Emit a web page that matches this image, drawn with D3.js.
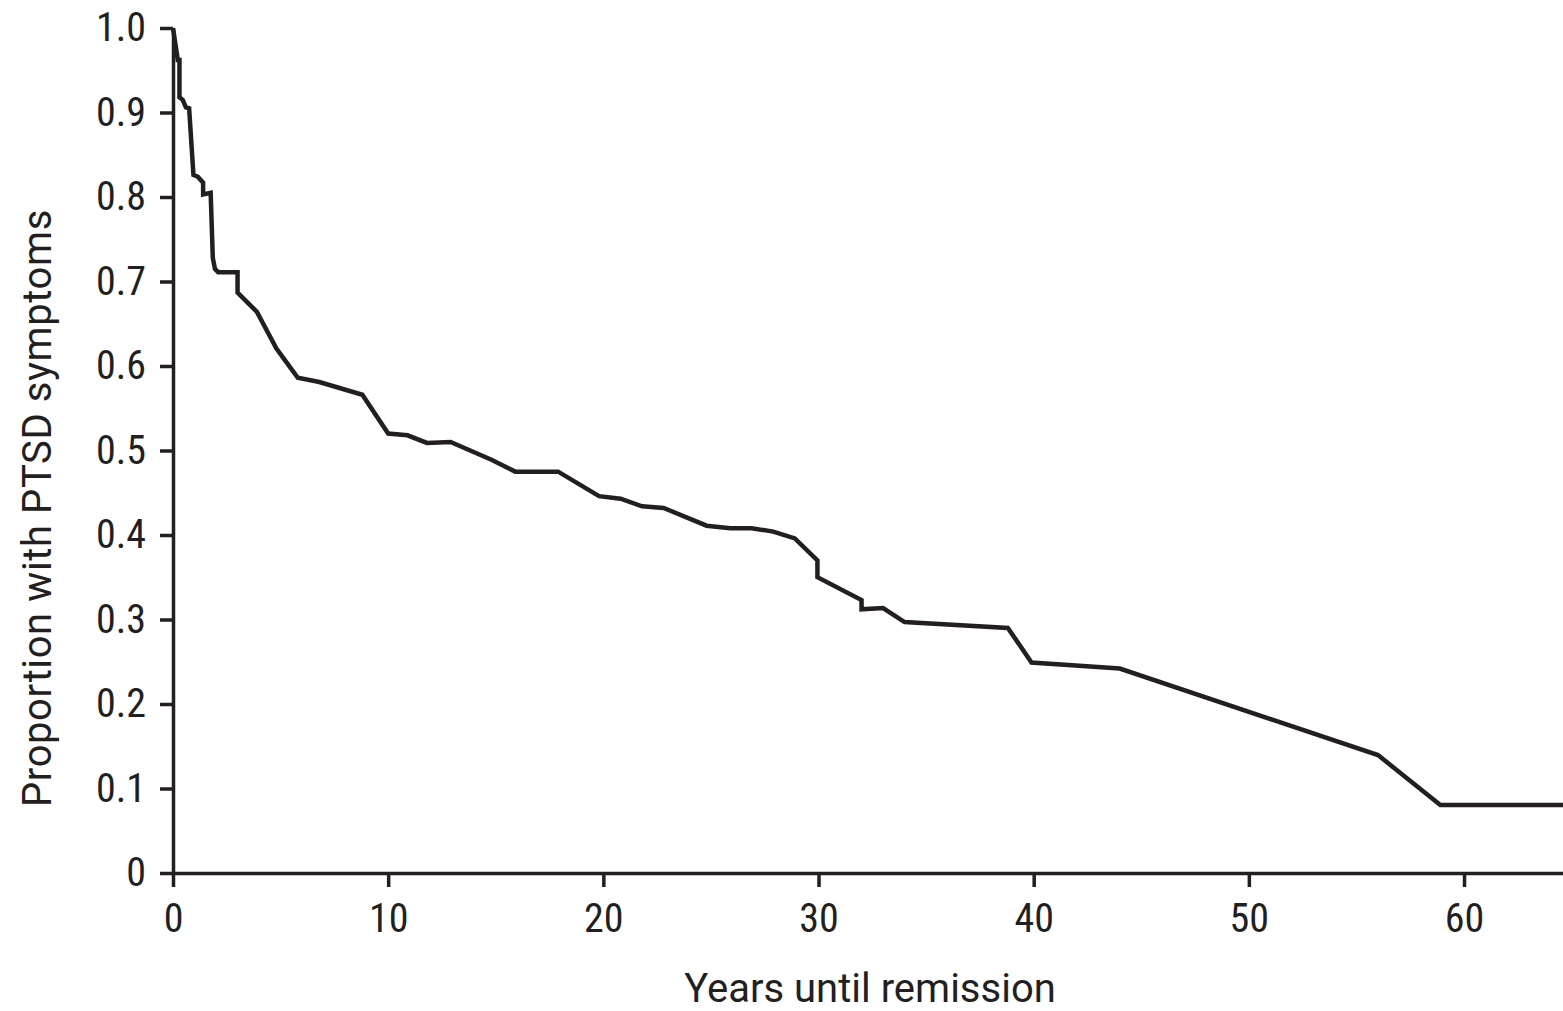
<!DOCTYPE html>
<meta charset="utf-8">
<title>Years until remission</title>
<style>
body {
  margin: 0;
  background: #fff;
}
svg text {
  font-family: 'Liberation Sans Narrow', 'Roboto Condensed', Roboto, sans-serif;
  fill: #231f20;
}
.axis .domain,
.axis .tick line {
  stroke: #231f20;
  stroke-width: 3.5;
}
.axis .tick text {
  font-size: 40px;
}
.title {
  font-family: Roboto, sans-serif !important;
  font-size: 40px;
}
.curve {
  fill: none;
  stroke: #231f20;
  stroke-width: 4.5;
  stroke-linejoin: miter;
}
</style>
<body>
<svg width="1563" height="1011"></svg>
<script src="https://cdnjs.cloudflare.com/ajax/libs/d3/7.8.5/d3.min.js"></script>
<script>
// survival curve vertices: years, proportion still with symptoms
var years = [0, 0.19, 0.22, 0.3, 0.3, 0.45, 0.6, 0.75, 0.95, 1.15, 1.4, 1.4, 1.75, 1.85, 1.95, 2.1, 3.0, 3.0,
  3.9, 4.8, 5.2, 5.8, 6.8, 8.8, 10.0, 10.9, 11.8, 12.9, 14.8, 15.9, 17.9, 19.8, 20.8, 21.8, 22.8, 24.8,
  25.9, 26.9, 27.9, 28.9, 29.95, 29.95, 32.0, 32.0, 33.0, 34.0, 38.8, 39.9, 44.0, 56.0, 58.9, 64.6];
var proportion = [1.0, 0.968, 0.962, 0.962, 0.918, 0.915, 0.906, 0.905, 0.826, 0.824, 0.817, 0.803, 0.805, 0.728, 0.715, 0.711, 0.711, 0.687,
  0.664, 0.621, 0.607, 0.586, 0.581, 0.566, 0.52, 0.518, 0.509, 0.51, 0.489, 0.475, 0.475, 0.446, 0.443, 0.434, 0.432, 0.411,
  0.408, 0.408, 0.404, 0.396, 0.37, 0.35, 0.323, 0.312, 0.3135, 0.297, 0.29, 0.249, 0.242, 0.1396, 0.0805, 0.0805];

var xTicks = [0, 10, 20, 30, 40, 50, 60];
var yTicks = [0, 0.1, 0.2, 0.3, 0.4, 0.5, 0.6, 0.7, 0.8, 0.9, 1.0];

var svg = d3.select("svg");

var x = d3.scaleLinear()
    .domain([0, 64.6])
    .range([173, 1563]);

var y = d3.scaleLinear()
    .domain([0, 1])
    .range([873, 28]);

var data = years.map(function(t, i) { return {t: t, p: proportion[i]}; });

// axes
svg.append("g")
    .attr("class", "axis")
    .attr("transform", "translate(0,873)")
    .call(d3.axisBottom(x)
      .tickValues(xTicks)
      .tickSize(14)
      .tickSizeOuter(0)
      .tickPadding(17)
      .tickFormat(d3.format("d")))
    .call(function(g) { g.selectAll("text").attr("fill", "#231f20"); });

svg.append("g")
    .attr("class", "axis")
    .attr("transform", "translate(173,0)")
    .call(d3.axisLeft(y)
      .tickValues(yTicks)
      .tickSize(13)
      .tickSizeOuter(0)
      .tickPadding(14)
      .tickFormat(function(d) { return d === 0 ? "0" : d3.format(".1f")(d); }))
    .call(function(g) { g.selectAll("text").attr("fill", "#231f20"); });

// the curve
var line = d3.line()
    .x(function(d) { return x(d.t); })
    .y(function(d) { return y(d.p); });

svg.append("path")
    .datum(data)
    .attr("class", "curve")
    .attr("d", line);

// axis titles
svg.append("text")
    .attr("class", "title")
    .attr("x", 870)
    .attr("y", 1002)
    .attr("text-anchor", "middle")
    .text("Years until remission");

svg.append("text")
    .attr("class", "title")
    .attr("transform", "translate(51,508) rotate(-90)")
    .attr("text-anchor", "middle")
    .attr("letter-spacing", "0.6px")
    .text("Proportion with PTSD symptoms");
</script>
</body>
